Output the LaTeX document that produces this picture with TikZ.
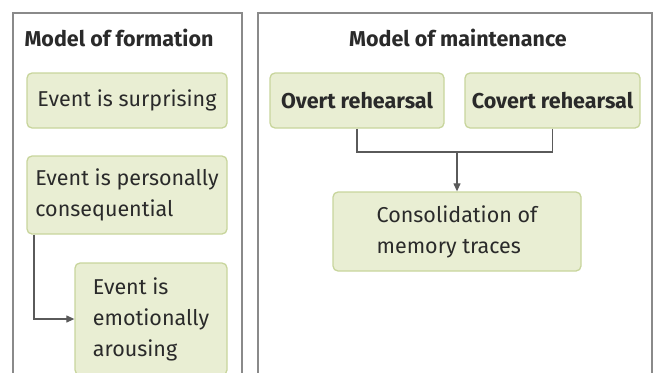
\documentclass[tikz,border=0pt]{standalone}
\usepackage{fontspec}
\setmainfont{Fira Sans}
\usetikzlibrary{arrows.meta}
\definecolor{boxfill}{HTML}{E9EED3}
\definecolor{boxline}{HTML}{C8D59C}
\definecolor{panelline}{HTML}{8A8A8A}
\definecolor{linkline}{HTML}{5A5A5A}
\definecolor{textcol}{HTML}{2A2A2A}
\tikzset{
  panel/.style={draw=panelline, line width=1.2pt},
  stagebox/.style={draw=boxline, fill=boxfill, line width=1.3pt, rounded corners=5pt,
    inner sep=0pt, text=textcol, align=left, font=\fontsize{21.5}{31}\selectfont},
  boldstage/.style={stagebox, font=\bfseries\fontsize{21.5}{26}\selectfont},
  heading/.style={text=textcol, font=\bfseries\fontsize{21.5}{26}\selectfont},
  link/.style={draw=linkline, line width=1.2pt, -{Triangle[length=8pt,width=7pt]}},
  plain/.style={draw=linkline, line width=1.2pt}
}
\begin{document}
\begin{tikzpicture}[x=1pt,y=-1pt]
\useasboundingbox (0,0) rectangle (655,372);
\clip (0,0) rectangle (655,372);
% panels
\draw[panel] (13,13) rectangle (242,390);
\draw[panel] (258,13) rectangle (652,390);
\node[heading] (tf) at (119,38) {Model of formation};
\node[heading] (tm) at (458,38) {Model of maintenance};
% formation stages
\node[stagebox, minimum width=200pt, minimum height=55pt] (surp) at (127,100.5) {Event is surprising};
\node[stagebox, minimum width=200pt, minimum height=78pt] (cons) at (127,195) {Event is personally\\consequential};
\node[stagebox, minimum width=152pt, minimum height=112pt] (emo) at (151,319) {Event is\\emotionally\\arousing};
% maintenance stages
\node[boldstage, minimum width=174pt, minimum height=55pt] (overt) at (357,100.5) {Overt rehearsal};
\node[boldstage, minimum width=175pt, minimum height=55pt] (covert) at (552.5,100.5) {Covert rehearsal};
\node[stagebox, minimum width=248pt, minimum height=79pt] (consol) at (457,231.5) {Consolidation of\\memory traces};
% connectors
\coordinate (join) at (457,152);
\draw[plain] (overt.south) |- (join);
\draw[plain] (covert.south) |- (join);
\draw[link] (join) -- (consol.north);
\draw[link] ([xshift=-93pt]cons.south) |- (emo.west);
\end{tikzpicture}
\end{document}
